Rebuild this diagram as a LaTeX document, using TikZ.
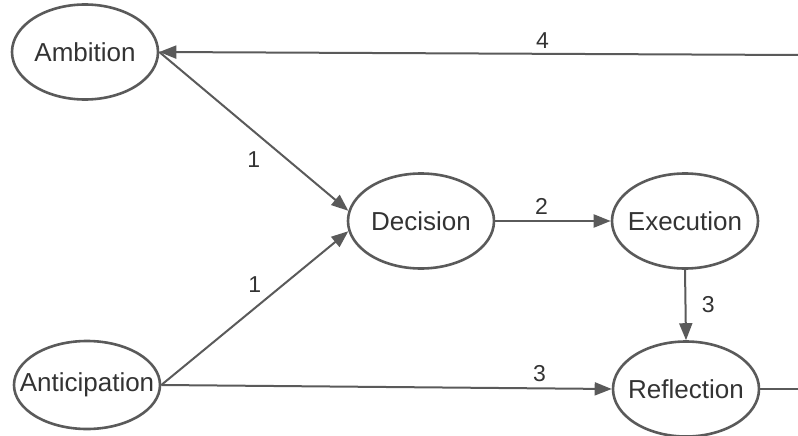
\documentclass[tikz,border=0pt]{standalone}
\usepackage{fontspec}
\setmainfont{Liberation Sans}
\usetikzlibrary{shapes.geometric,arrows.meta}
\definecolor{linegray}{HTML}{5A5A5A}
\definecolor{textgray}{HTML}{333333}
\begin{document}
\begin{tikzpicture}[x=1pt,y=-1pt,
  stage/.style={ellipse,draw=linegray,line width=2.6pt,minimum width=146pt,minimum height=95pt,inner sep=0pt,inner xsep=-10pt,
    font=\fontsize{26}{28}\selectfont,text=textgray},
  conn/.style={draw=linegray,line width=2pt},
  arr/.style={conn,-{Triangle[length=17pt,width=13pt]}},
  num/.style={font=\fontsize{23}{25}\selectfont,text=textgray}]
\useasboundingbox (0,0) rectangle (798,436);
\node[stage] (amb) at (85,52) {Ambition};
\node[stage,minimum height=88pt,inner xsep=-18pt] (ant) at (87,385) {Anticipation};
\node[stage] (dec) at (421,221) {Decision};
\node[stage] (exe) at (685,221) {Execution};
\node[stage] (ref) at (686,389) {Reflection};
\coordinate (topright) at (798,55);
\coordinate (botright) at (798,389);
\draw[arr] (topright) -- (amb.east) node[num,pos=0.4,above=1pt] {4};
\draw[arr] (amb.east) -- (dec.172) node[num,pos=0.5,yshift=-28pt] {1};
\draw[arr] (ant.east) -- (dec.188) node[num,pos=0.5,yshift=24pt] {1};
\draw[arr] (dec.east) -- (exe.west) node[num,pos=0.4,above=2pt] {2};
\draw[arr] (exe.south) -- (ref.north) node[num,midway,right=12pt] {3};
\draw[arr] (ant.east) -- (ref.west) node[num,pos=0.84,above=2pt] {3};
\draw[conn] (ref.east) -- (botright);
\end{tikzpicture}
\end{document}
